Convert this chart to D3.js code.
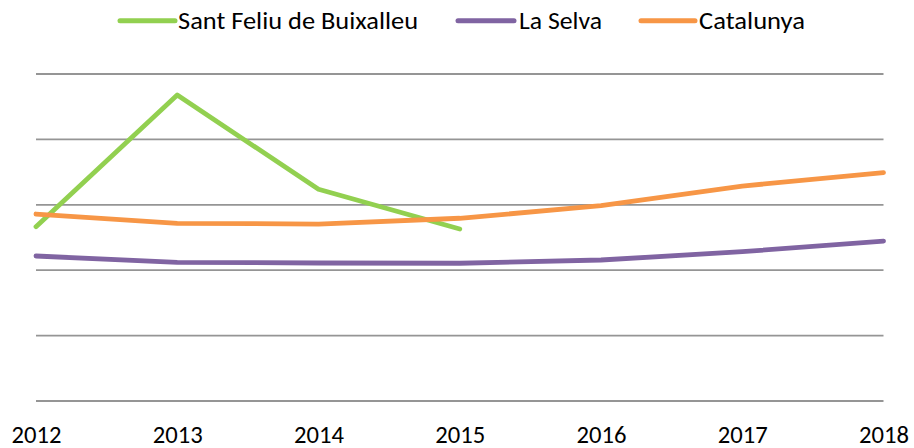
<!DOCTYPE html>
<html>
<head>
<meta charset="utf-8">
<script src="https://cdn.jsdelivr.net/npm/d3@7"></script>
<style>
  html, body { margin: 0; padding: 0; background: #fff; }
  svg { display: block; }
  text { font-family: Carlito, Calibri, Lato, "Open Sans", sans-serif; fill: #000; }
</style>
</head>
<body>
<svg id="chart" width="914" height="448"></svg>
<script>
const years = ["2012", "2013", "2014", "2015", "2016", "2017", "2018"];
const santFeliu = [2.665, 4.679, 3.237, 2.63, null, null, null];
const laSelva = [2.217, 2.121, 2.110, 2.106, 2.156, 2.283, 2.446];
const catalunya = [2.859, 2.717, 2.706, 2.794, 2.986, 3.287, 3.491];
const yTicks = [0, 1, 2, 3, 4, 5];
const seriesNames = ["Sant Feliu de Buixalleu", "La Selva", "Catalunya"];
const seriesColors = ["#92D050", "#8064A2", "#F79646"];

const series = [
  { name: seriesNames[0], values: santFeliu, color: seriesColors[0] },
  { name: seriesNames[1], values: laSelva, color: seriesColors[1] },
  { name: seriesNames[2], values: catalunya, color: seriesColors[2] }
];

const svg = d3.select("#chart");
const x = d3.scalePoint().domain(years).range([36, 883.5]);
const y = d3.scaleLinear().domain([0, 5]).range([401, 74]);

// gridlines
svg.append("g").selectAll("line").data(yTicks).join("line")
  .attr("x1", 36).attr("x2", 883.5)
  .attr("y1", d => y(d)).attr("y2", d => y(d))
  .attr("stroke", "#959595").attr("stroke-width", 1.8);

// x axis labels
const xAxis = d3.axisBottom(x).tickSize(0).tickPadding(0);
const gx = svg.append("g").attr("transform", "translate(0,401)").call(xAxis);
gx.select(".domain").remove();
gx.selectAll("text")
  .attr("y", 41.5).attr("dy", null)
  .style("font-size", "23.5px")
  .style("font-family", "Carlito, Calibri, Lato, 'Open Sans', sans-serif")
  .attr("textLength", 50).attr("lengthAdjust", "spacingAndGlyphs")
  .attr("fill", "#000");

// lines
const line = d3.line()
  .defined(d => d.v !== null)
  .x(d => x(d.year)).y(d => y(d.v));

svg.append("g").selectAll("path").data(series).join("path")
  .attr("d", s => line(years.map((yr, i) => ({ year: yr, v: s.values[i] }))))
  .attr("fill", "none")
  .attr("stroke", s => s.color)
  .attr("stroke-width", 4.8)
  .attr("stroke-linejoin", "round")
  .attr("stroke-linecap", "round");

// legend
const legendPos = [
  { lx1: 120, lx2: 175, tx: 178, w: 240 },
  { lx1: 458, lx2: 514, tx: 519, w: 83 },
  { lx1: 641, lx2: 695, tx: 699, w: 106 }
];
const lg = svg.append("g");
series.forEach((s, i) => {
  const p = legendPos[i];
  lg.append("line").attr("x1", p.lx1).attr("x2", p.lx2).attr("y1", 20.7).attr("y2", 20.7)
    .attr("stroke", s.color).attr("stroke-width", 5).attr("stroke-linecap", "round");
  lg.append("text").attr("x", p.tx).attr("y", 29.3)
    .style("font-size", "24px")
    .attr("textLength", p.w).attr("lengthAdjust", "spacingAndGlyphs")
    .text(s.name);
});
</script>
</body>
</html>
